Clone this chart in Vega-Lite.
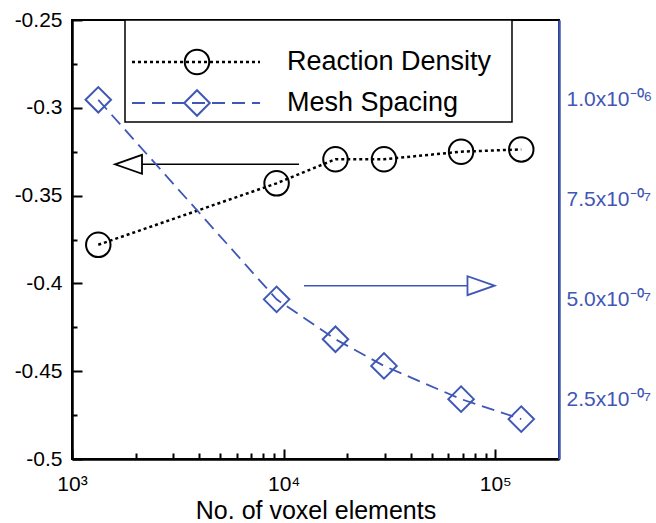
{
  "$schema": "https://vega.github.io/schema/vega-lite/v6.json",
  "width": 487,
  "height": 439,
  "autosize": "none",
  "padding": {"left": 72, "top": 20, "right": 97, "bottom": 64},
  "config": {
    "font": "Liberation Sans",
    "view": {"stroke": "black", "strokeWidth": 2},
    "axis": {
      "grid": true,
      "ticks": false,
      "gridColor": "black",
      "gridWidth": 2,
      "gridOpacity": 1,
      "domainWidth": 2.5,
      "labelFontSize": 21,
      "labelColor": "black",
      "domainColor": "black",
      "labelFlush": false,
      "labelOverlap": false,
      "labelBound": false
    }
  },
  "datasets": {
    "rd": [
      {"series": "Reaction Density", "elements": 1331, "density": -0.378},
      {"series": "Reaction Density", "elements": 9261, "density": -0.343},
      {"series": "Reaction Density", "elements": 17576, "density": -0.3293},
      {"series": "Reaction Density", "elements": 29791, "density": -0.3293},
      {"series": "Reaction Density", "elements": 68921, "density": -0.325},
      {"series": "Reaction Density", "elements": 132651, "density": -0.3237}
    ],
    "ms": [
      {"series": "Mesh Spacing", "elements": 1331, "spacing": 1.0e-6},
      {"series": "Mesh Spacing", "elements": 9261, "spacing": 5.0e-7},
      {"series": "Mesh Spacing", "elements": 17576, "spacing": 4.0e-7},
      {"series": "Mesh Spacing", "elements": 29791, "spacing": 3.333e-7},
      {"series": "Mesh Spacing", "elements": 68921, "spacing": 2.5e-7},
      {"series": "Mesh Spacing", "elements": 132651, "spacing": 2.0e-7}
    ]
  },
  "encoding": {
    "x": {
      "field": "elements",
      "type": "quantitative",
      "title": "No. of voxel elements",
      "scale": {"type": "log", "domain": [1000, 200000], "nice": false},
      "axis": {
        "orient": "bottom",
        "values": [1000, 2000, 3000, 4000, 5000, 6000, 7000, 8000, 9000, 10000, 20000, 30000, 40000, 50000, 60000, 70000, 80000, 90000, 100000],
        "labelExpr": "abs(log(datum.value)/LN10 - round(log(datum.value)/LN10)) < 1e-6 ? '10' + substring('⁰¹²³⁴⁵⁶⁷⁸⁹', round(log(datum.value)/LN10), round(log(datum.value)/LN10) + 1) : ''",
        "gridDash": {"condition": {"test": "abs(log(datum.value)/LN10 - round(log(datum.value)/LN10)) < 1e-6", "value": [0, 429, 10, 2000]}, "value": [0, 433, 6, 2000]},
        "labelPadding": 14,
        "titleFontSize": 25,
        "titleFontWeight": "normal",
        "titleColor": "black",
        "titlePadding": 4
      }
    }
  },
  "layer": [
    {
      "data": {"name": "rd"},
      "encoding": {
        "y": {
          "field": "density",
          "type": "quantitative",
          "title": null,
          "scale": {"domain": [-0.5, -0.25], "nice": false, "zero": false},
          "axis": {
            "orient": "left",
            "values": [-0.5, -0.475, -0.45, -0.425, -0.4, -0.375, -0.35, -0.325, -0.3, -0.275, -0.25],
            "labelExpr": "abs(datum.value*20 - round(datum.value*20)) < 1e-6 ? replace(format(datum.value, '.2~f'), '\u2212', '-') : ''",
            "gridDash": {"condition": {"test": "abs(datum.value*20 - round(datum.value*20)) < 1e-6", "value": [10, 2000]}, "value": [5, 2000]},
            "labelPadding": 10
          }
        }
      },
      "layer": [
        {
          "mark": {"type": "line", "color": "black", "strokeWidth": 2.5, "strokeDash": [3, 3]}
        },
        {
          "mark": {"type": "point", "shape": "circle", "size": 600, "filled": false, "color": "black", "strokeWidth": 2, "opacity": 1}
        },
        {
          "transform": [{"filter": "datum.elements === 1331"}],
          "mark": {"type": "rule", "color": "black", "strokeWidth": 1.5},
          "encoding": {
            "x": {"datum": 2141, "type": "quantitative"},
            "x2": {"datum": 11816},
            "y": {"datum": -0.3322, "type": "quantitative"}
          }
        },
        {
          "transform": [{"filter": "datum.elements === 1331"}],
          "mark": {"type": "point", "shape": "M-1,0L1,-0.7L1,0.7Z", "size": 729, "filled": false, "color": "black", "strokeWidth": 1.8, "opacity": 1},
          "encoding": {
            "x": {"datum": 1849, "type": "quantitative"},
            "y": {"datum": -0.3322, "type": "quantitative"}
          }
        },
        {
          "transform": [{"filter": "datum.elements === 1331"}],
          "mark": {"type": "rect", "fill": "white", "stroke": "black", "strokeWidth": 1.5},
          "encoding": {
            "x": {"datum": 1780, "type": "quantitative"},
            "x2": {"datum": 119930},
            "y": {"datum": -0.25, "type": "quantitative"},
            "y2": {"datum": -0.3081}
          }
        },
        {
          "transform": [{"filter": "datum.elements === 1331"}],
          "mark": {"type": "rule", "color": "black", "strokeWidth": 2.5, "strokeDash": [3, 3]},
          "encoding": {
            "x": {"datum": 1921, "type": "quantitative"},
            "x2": {"datum": 7733},
            "y": {"datum": -0.2739, "type": "quantitative"}
          }
        },
        {
          "transform": [{"filter": "datum.elements === 1331"}],
          "mark": {"type": "point", "shape": "circle", "size": 600, "filled": false, "color": "black", "strokeWidth": 2, "opacity": 1},
          "encoding": {
            "x": {"datum": 3896, "type": "quantitative"},
            "y": {"datum": -0.2739, "type": "quantitative"}
          }
        },
        {
          "transform": [{"filter": "datum.elements === 1331"}],
          "mark": {"type": "text", "align": "left", "baseline": "middle", "fontSize": 27, "color": "black"},
          "encoding": {
            "x": {"datum": 10371, "type": "quantitative"},
            "y": {"datum": -0.2739, "type": "quantitative"},
            "text": {"field": "series"}
          }
        }
      ]
    },
    {
      "data": {"name": "ms"},
      "encoding": {
        "y": {
          "field": "spacing",
          "type": "quantitative",
          "title": null,
          "scale": {"domain": [1.0e-7, 1.2e-6], "nice": false, "zero": false},
          "axis": {
            "orient": "right",
            "values": [1.25e-7, 2.5e-7, 3.75e-7, 5.0e-7, 6.25e-7, 7.5e-7, 8.75e-7, 1.0e-6, 1.125e-6],
            "labelExpr": "abs(datum.value/2.5e-7 - round(datum.value/2.5e-7)) < 0.01 ? (datum.value > 9.99e-7 ? format(datum.value*1e6, '.1f') + 'x10⁻⁰⁶' : format(datum.value*1e7, '.1f') + 'x10⁻⁰⁷') : ''",
            "gridDash": {"condition": {"test": "abs(datum.value/2.5e-7 - round(datum.value/2.5e-7)) < 0.01", "value": [10, 2000]}, "value": [5, 2000]},
            "gridColor": "#3f57b5",
            "labelPadding": 7,
            "domainColor": "#3f57b5",
            "labelColor": "#3f57b5"
          }
        }
      },
      "layer": [
        {
          "mark": {"type": "line", "color": "#3f57b5", "strokeWidth": 1.8, "strokeDash": [13, 7]}
        },
        {
          "mark": {"type": "point", "shape": "diamond", "size": 650, "filled": false, "color": "#3f57b5", "strokeWidth": 2, "opacity": 1}
        },
        {
          "transform": [{"filter": "datum.elements === 1331"}],
          "mark": {"type": "rule", "color": "#3f57b5", "strokeWidth": 1.5},
          "encoding": {
            "x": {"datum": 12477, "type": "quantitative"},
            "x2": {"datum": 73497},
            "y": {"datum": 5.342e-7, "type": "quantitative"}
          }
        },
        {
          "transform": [{"filter": "datum.elements === 1331"}],
          "mark": {"type": "point", "shape": "M1,0L-1,-0.7L-1,0.7Z", "size": 729, "filled": false, "color": "#3f57b5", "strokeWidth": 1.8, "opacity": 1},
          "encoding": {
            "x": {"datum": 85580, "type": "quantitative"},
            "y": {"datum": 5.342e-7, "type": "quantitative"}
          }
        },
        {
          "transform": [{"filter": "datum.elements === 1331"}],
          "mark": {"type": "rule", "color": "#3f57b5", "strokeWidth": 1.8, "strokeDash": [13, 7]},
          "encoding": {
            "x": {"datum": 1921, "type": "quantitative"},
            "x2": {"datum": 7733},
            "y": {"datum": 9.92e-7, "type": "quantitative"}
          }
        },
        {
          "transform": [{"filter": "datum.elements === 1331"}],
          "mark": {"type": "point", "shape": "diamond", "size": 650, "filled": false, "color": "#3f57b5", "strokeWidth": 2, "opacity": 1},
          "encoding": {
            "x": {"datum": 3896, "type": "quantitative"},
            "y": {"datum": 9.92e-7, "type": "quantitative"}
          }
        },
        {
          "transform": [{"filter": "datum.elements === 1331"}],
          "mark": {"type": "text", "align": "left", "baseline": "middle", "fontSize": 27, "color": "black"},
          "encoding": {
            "x": {"datum": 10371, "type": "quantitative"},
            "y": {"datum": 9.92e-7, "type": "quantitative"},
            "text": {"field": "series"}
          }
        }
      ]
    }
  ],
  "resolve": {"scale": {"y": "independent"}}
}
